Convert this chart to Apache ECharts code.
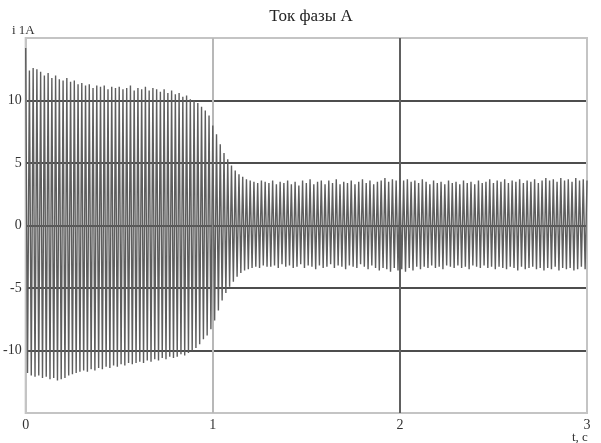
<!DOCTYPE html>
<html><head><meta charset="utf-8">
<script src="https://cdn.jsdelivr.net/npm/echarts@6/dist/echarts.min.js"></script>
<style>html,body{margin:0;padding:0;background:#fff}#c{width:601px;height:443px}</style>
</head><body><div id="c"></div>
<script>
const titleText = 'Ток фазы A';
const yName = 'i 1A';
const xName = 't, c';
const xTicks = [0, 1, 2, 3];
const yTicks = [-10, -5, 0, 5, 10];
const sampleStart = 0;
const sampleStep = 0.01;
// current peaks (alternating half-cycle extremes)
const current = [
 14.2,-11.8,12.4,-12.0,12.6,-12.1,12.5,-12.0,12.3,-12.2,
 12.0,-12.1,12.2,-12.3,11.8,-12.2,12.0,-12.4,11.7,-12.3,
 11.6,-12.2,11.8,-12.0,11.5,-11.9,11.6,-11.8,11.3,-11.7,
 11.4,-11.6,11.2,-11.7,11.3,-11.5,11.0,-11.6,11.2,-11.4,
 11.1,-11.5,11.2,-11.3,10.9,-11.4,11.1,-11.2,11.0,-11.3,
 11.1,-11.1,10.9,-11.2,11.0,-11.0,11.2,-11.1,10.8,-11.0,
 11.0,-10.9,10.9,-11.0,11.1,-10.8,10.8,-10.9,11.0,-10.7,
 10.9,-10.8,10.7,-10.6,10.9,-10.7,10.6,-10.5,10.8,-10.6,
 10.5,-10.5,10.6,-10.3,10.3,-10.4,10.4,-10.2,10.1,-10.0,
 10.0,-9.8,9.8,-9.5,9.5,-9.1,9.2,-8.8,8.8,-8.3,
 8.0,-7.6,7.3,-6.8,6.5,-6.0,5.8,-5.4,5.3,-4.9,
 4.8,-4.5,4.4,-4.1,4.1,-3.8,3.9,-3.6,3.7,-3.5,
 3.6,-3.4,3.5,-3.3,3.4,-3.4,3.6,-3.2,3.5,-3.3,
 3.4,-3.3,3.6,-3.2,3.3,-3.4,3.5,-3.1,3.4,-3.3,
 3.6,-3.2,3.3,-3.4,3.5,-3.3,3.2,-3.1,3.6,-3.4,
 3.4,-3.2,3.7,-3.3,3.3,-3.5,3.5,-3.2,3.6,-3.4,
 3.3,-3.3,3.6,-3.1,3.4,-3.4,3.7,-3.2,3.3,-3.3,
 3.5,-3.5,3.4,-3.2,3.6,-3.3,3.3,-3.4,3.5,-3.1,
 3.7,-3.3,3.4,-3.5,3.6,-3.2,3.3,-3.4,3.5,-3.6,
 3.6,-3.4,3.8,-3.5,3.5,-3.7,3.7,-3.4,3.6,-3.6,
 3.8,-3.5,3.6,-3.7,3.7,-3.4,3.5,-3.6,3.6,-3.3,
 3.4,-3.5,3.7,-3.3,3.5,-3.4,3.3,-3.2,3.6,-3.4,
 3.4,-3.3,3.5,-3.5,3.3,-3.2,3.6,-3.3,3.4,-3.4,
 3.5,-3.2,3.3,-3.4,3.6,-3.3,3.4,-3.5,3.5,-3.2,
 3.3,-3.3,3.6,-3.4,3.4,-3.2,3.5,-3.4,3.7,-3.3,
 3.4,-3.5,3.6,-3.3,3.5,-3.4,3.7,-3.5,3.4,-3.3,
 3.6,-3.4,3.5,-3.6,3.7,-3.3,3.4,-3.5,3.6,-3.4,
 3.5,-3.3,3.7,-3.5,3.4,-3.4,3.6,-3.6,3.8,-3.4,
 3.6,-3.5,3.7,-3.3,3.5,-3.6,3.8,-3.4,3.6,-3.5,
 3.7,-3.4,3.5,-3.6,3.8,-3.5,3.6,-3.3,3.7,-3.5,
 3.6
];
const seriesData = current.map((v, i) => [+(sampleStart + i * sampleStep).toFixed(2), v]);
const serif = '"Liberation Serif", "DejaVu Serif", serif';
const chart = echarts.init(document.getElementById('c'), null, {renderer: 'canvas'});
chart.setOption({
  animation: false,
  backgroundColor: '#fff',
  title: [
    {text: titleText, left: 306, top: 3, textAlign: 'center', textStyle: {fontFamily: serif, fontSize: 17, fontWeight: 'normal', color: '#222'}},
    {text: yName, left: 7, top: 19, textStyle: {fontFamily: serif, fontSize: 13, fontWeight: 'normal', color: '#333'}},
    {text: xName, left: 567, top: 426, textStyle: {fontFamily: serif, fontSize: 13, fontWeight: 'normal', color: '#333'}}
  ],
  grid: {left: 25, right: 14, top: 38, bottom: 30, show: true, borderColor: '#c4c4c4', borderWidth: 2, backgroundColor: '#fff'},
  xAxis: {
    type: 'value', min: xTicks[0], max: xTicks[xTicks.length - 1], interval: 1,
    axisLine: {show: false}, axisTick: {show: false},
    axisLabel: {fontFamily: serif, fontSize: 14, color: '#333', margin: 5,
      formatter: v => xTicks.includes(v) ? String(v) : ''},
    splitLine: {show: true, lineStyle: {color: ['#c4c4c4', '#b8b8b8', '#606060', '#c4c4c4'], width: 2}}
  },
  yAxis: {
    type: 'value', min: -15, max: 15, interval: 5,
    axisLine: {show: false}, axisTick: {show: false},
    axisLabel: {fontFamily: serif, fontSize: 14, color: '#333', margin: 4,
      formatter: v => yTicks.includes(v) ? String(v) : ''},
    splitLine: {show: true, lineStyle: {color: ['#c4c4c4', '#4e4e4e', '#4e4e4e', '#4e4e4e', '#4e4e4e', '#4e4e4e', '#c4c4c4'], width: 2}}
  },
  series: [{
    type: 'line', data: seriesData, showSymbol: false, z: 1,
    lineStyle: {color: '#5e5e5e', width: 1.4}
  }]
});
</script></body></html>
